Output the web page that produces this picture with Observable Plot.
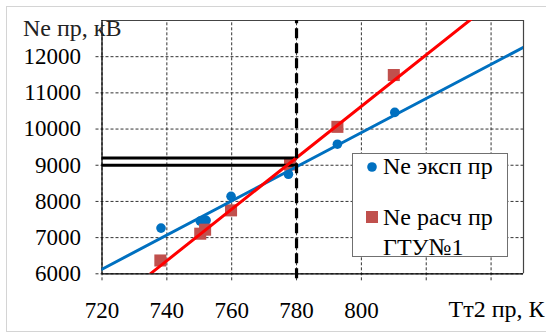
<!DOCTYPE html>
<html>
<head>
<meta charset="utf-8">
<script src="https://cdn.jsdelivr.net/npm/d3@7"></script>
<script src="https://cdn.jsdelivr.net/npm/@observablehq/plot@0.6"></script>
<style>
  html, body { margin: 0; padding: 0; background: #fff; }
  #wrap { position: relative; width: 546px; height: 336px; overflow: hidden; font-family: "Liberation Serif", "DejaVu Serif", serif; }
  #wrap svg text { font-family: "Liberation Serif", "DejaVu Serif", serif; }
  #border { position: absolute; left: 6px; top: 6px; width: 560px; height: 326px; border-left: 1.5px solid #d4d4d4; border-top: 1.5px solid #d4d4d4; border-bottom: 1.5px solid #d4d4d4; box-sizing: border-box; }
  #chart { position: absolute; left: 0; top: 0; }
  #legend { position: absolute; left: 352px; top: 153px; width: 156px; height: 104px; border: 1px solid #707070; background: #fff; box-sizing: border-box; font-size: 24px; color: #000; }
  .lt { position: absolute; left: 30px; white-space: nowrap; line-height: 1; }
  .sw { position: absolute; }
</style>
</head>
<body>
<div id="wrap">
  <div id="border"></div>
  <div id="chart"></div>
  <div id="legend"></div>
</div>
<script>
// ---- data ----
const seriesNames = ["Ne эксп пр", "Ne расч пр ГТУ№1"];
const expT  = [738.2, 750.3, 752.1, 759.8, 777.5, 792.6, 810.3];
const expNe = [7263, 7457, 7476, 8141, 8751, 9582, 10460];
const calcT  = [738.0, 750.3, 751.8, 759.8, 778.0, 792.6, 810.0];
const calcNe = [6368, 7108, 7219, 7753, 9019, 10061, 11493];
// trend lines (endpoints)
const expTrendT  = [720, 850];
const expTrendNe = [6127, 12260];
const calcTrendT  = [734.9, 850];
const calcTrendNe = [6000, 14184];
// reference lines
const refT = 780;
const refNe = [9000, 9200];
// ticks
const xTicks = [720, 740, 760, 780, 800, 820, 840];
const xTickLabels = [720, 740, 760, 780, 800];
const yTicks = [6000, 7000, 8000, 9000, 10000, 11000, 12000];
const xTitle = "Тт2 пр, К";
const yTitle = "Ne пр, кВ";

const blue = "#0070c0", red = "#ff0000", sq = "#c0504d";
const exp = expT.map((t, i) => ({t, ne: expNe[i]}));
const calc = calcT.map((t, i) => ({t, ne: calcNe[i]}));
const expTrend = expTrendT.map((t, i) => ({t, ne: expTrendNe[i]}));
const calcTrend = calcTrendT.map((t, i) => ({t, ne: calcTrendNe[i]}));

const chart = Plot.plot({
  width: 546, height: 336,
  marginLeft: 101.5, marginRight: 23, marginTop: 20, marginBottom: 62.7,
  x: {domain: [720, 850]},
  y: {domain: [6000, 13000]},
  style: {fontFamily: "'Liberation Serif', 'DejaVu Serif', serif", fontSize: "23px", background: "transparent", overflow: "visible", color: "#000"},
  marks: [
    Plot.ruleY(yTicks, {x1: 718.15, x2: 850, stroke: "#333", strokeWidth: 1, strokeDasharray: "3,2"}),
    Plot.ruleX(xTicks, {y1: 5806, y2: 13000, stroke: "#333", strokeWidth: 1, strokeDasharray: "3,2"}),
    Plot.ruleY([13000], {x1: 720, x2: 850, stroke: "#444", strokeWidth: 1.2}),
    Plot.ruleX([850], {y1: 6000, y2: 13000, stroke: "#444", strokeWidth: 1.2}),
    Plot.ruleX([720], {y1: 6000, y2: 13000, stroke: "#000", strokeWidth: 1.2}),
    Plot.ruleY([6000], {x1: 720, x2: 850, stroke: "#000", strokeWidth: 1.2}),
    Plot.dot(exp, {x: "t", y: "ne", r: 4.8, fill: blue, stroke: "none"}),
    Plot.dot(calc, {x: "t", y: "ne", r: 6.8, symbol: "square", fill: sq, stroke: "none"}),
    Plot.ruleY(refNe, {x1: 720, x2: refT, stroke: "#000", strokeWidth: 3.2}),
    Plot.line(expTrend, {x: "t", y: "ne", stroke: blue, strokeWidth: 3, clip: true}),
    Plot.line(calcTrend, {x: "t", y: "ne", stroke: red, strokeWidth: 3, clip: true}),
    Plot.ruleX([refT], {y1: 5860, y2: 13000, stroke: "#000", strokeWidth: 3.2, strokeDasharray: "10,5"}),
    Plot.axisY(yTicks, {tickSize: 0, tickPadding: 21, label: null, fontSize: 23, tickFormat: d => String(d)}),
    Plot.axisX(xTickLabels, {tickSize: 0, tickPadding: 28, label: null, fontSize: 23, tickFormat: d => String(d)}),
    Plot.text([yTitle], {frameAnchor: "top-left", text: d => d, textAnchor: "start", lineAnchor: "bottom", dx: -79, dy: 15, fontSize: 24, fill: "#222"}),
    Plot.text([xTitle], {frameAnchor: "bottom-right", text: d => d, textAnchor: "end", lineAnchor: "bottom", dx: 21, dy: 43.5, fontSize: 24})
  ]
});
document.getElementById("chart").appendChild(chart);

// legend (HTML overlay)
const lg = document.getElementById("legend");
lg.innerHTML = `
  <svg class="sw" style="left:12px;top:6px" width="14" height="14"><circle cx="7" cy="7" r="4.8" fill="${blue}"/></svg>
  <div class="lt" style="top:0px">${seriesNames[0]}</div>
  <svg class="sw" style="left:13px;top:57px" width="13" height="13"><rect width="12" height="12" fill="${sq}"/></svg>
  <div class="lt" style="top:51px">Ne расч пр</div>
  <div class="lt" style="top:81px">ГТУ№1</div>
`;
</script>
</body>
</html>
